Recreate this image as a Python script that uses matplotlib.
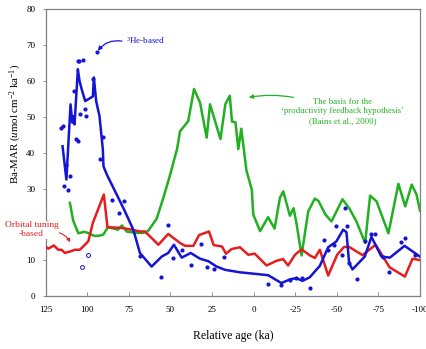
import matplotlib
matplotlib.use("Agg")
import matplotlib.pyplot as plt
import numpy as np

plt.rcParams['font.family'] = ['Liberation Serif', 'DejaVu Serif']
plt.rcParams['mathtext.fontset'] = 'custom'
plt.rcParams['mathtext.rm'] = 'Liberation Serif'
plt.rcParams['mathtext.it'] = 'Liberation Serif:italic'

# 3He-based line
he_age = [114.8, 112.5, 110.0, 108.9, 108.2, 107.6, 105.6, 104.6, 103.3, 101.2, 96.6, 96.0,
          94.6, 92.6, 91.2, 90.6, 90.2, 88.3, 81.3, 77.3, 72.3, 68.3, 61.3, 55.2, 51.3, 47.9,
          43.2, 37.8, 32.2, 27.2, 22.2, 17.2, 8.2, -8.7, -16.7, -21.7, -25.7, -29.3, -33.7,
          -39.8, -44.8, -49.7, -53.8, -55.8, -57.4, -59.4, -66.8, -70.8, -76.8, -81.9, -90.7, -99.9]
he_mar = [41.8, 32.5, 53.5, 48.4, 50.2, 47.9, 63.3, 60.0, 57.7, 54.4, 55.7, 61.0,
          54.4, 50.2, 43.7, 40.9, 36.2, 34.0, 27.4, 23.6, 18.5, 12.0, 8.2, 11.0, 12.0, 14.3,
          10.7, 12.0, 10.4, 9.7, 8.2, 7.3, 6.6, 5.8, 3.6, 4.6, 5.0, 4.2, 5.2,
          8.4, 13.6, 15.2, 18.5, 17.8, 9.2, 7.4, 11.0, 16.5, 11.0, 10.7, 14.0, 11.0]

# 3He-based individual samples
pt_age = [115.8, 114.8, 113.8, 111.4, 112.8, 110.4, 108.0, 106.8, 105.8, 105.8, 104.8, 102.4,
          104.4, 101.4, 100.8, 96.4, 94.0, 90.4, 92.3, 85.3, 77.9, 80.7, 68.3, 51.3, 55.5,
          48.3, 43.2, 37.8, 31.6, 28.2, 23.8, 17.5, -8.7, -16.7, -21.7, -25.7, -29.3, -34.1,
          -42.3, -44.8, -48.2, -49.8, -53.4, -54.8, -56.2, -57.4, -62.2, -66.8, -70.8, -73.2,
          -77.8, -81.4, -88.8, -90.9, -96.9]
pt_mar = [47.0, 47.4, 30.6, 29.7, 36.5, 33.6, 57.2, 43.7, 43.2, 65.6, 65.6, 65.8,
          50.7, 52.1, 50.2, 60.5, 68.2, 44.3, 38.1, 26.7, 26.6, 23.2, 11.2, 19.9, 5.4,
          10.7, 12.9, 8.6, 14.5, 8.2, 7.5, 10.8, 3.3, 3.1, 4.5, 5.1, 5.1, 2.2,
          15.5, 12.9, 14.1, 19.4, 11.3, 24.6, 19.4, 9.3, 4.6, 15.3, 17.4, 17.4,
          10.9, 6.8, 15.2, 16.2, 11.3]

# open symbols
op_age = [99.4, 103.4]
op_mar = [11.4, 8.1]

# Orbital tuning-based
orb_age = [125, 123.4, 120, 117.4, 115.4, 113.4, 110.4, 107.4, 104.4, 102, 99.3, 96.6, 90,
           87.8, 79.3, 73.3, 68.3, 65.3, 57.2, 51.3, 44.2, 41.2, 36.2, 32.8, 26.8, 24, 19,
           16.6, 13.2, 8.2, 3.2, -0.7, -7.8, -13.7, -17.7, -20.7, -24.9, -28.8, -33.9, -36.8,
           -39.8, -44.8, -50.2, -54.4, -57.4, -62.2, -65.5, -73.3, -76.8, -81.7, -90.9, -95.5, -100]
orb_mar = [13.8, 13.2, 14.1, 12.9, 12.9, 12.0, 12.4, 12.9, 12.9, 14.0, 15.3, 20.4, 28.3,
           19.2, 19.0, 18.5, 18.0, 18.0, 14.3, 17.3, 14.8, 14.0, 14.0, 17.0, 18.0, 14.2, 13.8,
           11.8, 13.1, 13.6, 11.5, 11.8, 8.5, 9.8, 10.3, 8.5, 11.5, 13.0, 11.3, 10.6,
           12.9, 5.7, 11.5, 13.7, 13.7, 12.3, 11.4, 14.3, 11.7, 8.0, 5.4, 10.4, 10.0]

# Bains et al. (2000)
bains_age = [110.4, 108.4, 105.3, 101.7, 99.6, 96, 93, 90.4, 87.5, 81.5, 79.1, 76.3, 70.7,
             66.3, 63.5, 58.3, 54.3, 50.3, 47.2, 46, 44.2, 39.3, 35.8, 32.2, 28.2, 26.2, 19.9,
             17.0, 14.3, 13, 10.9, 9.2, 7.4, 4.3, 1.1, 0.2, -3.9, -8.7, -12.6, -15.8, -17.8,
             -21.8, -24.0, -25.9, -28.8, -32.8, -36.8, -39, -43.2, -46.8, -53.4, -57.4, -61.6,
             -67, -70, -73.9, -81, -87, -91.1, -95, -97.9, -100]
bains_mar = [26.0, 21.0, 17.5, 17.9, 17.6, 16.8, 16.8, 17.1, 19.2, 18.5, 19.7, 18.0, 17.6,
             17.6, 18.1, 21.5, 27.3, 33.6, 39, 41, 46, 48.8, 57.8, 54, 44.2, 53.5, 43.8,
             53.5, 55.9, 48.7, 48.5, 41, 46.7, 35, 29.7, 22.7, 18.1, 22, 18.8, 27.4, 29.2,
             22.4, 24.5, 19.9, 11.3, 23.6, 27.2, 26.5, 22.7, 20.8, 27.0, 24.5, 21,
             14.8, 28, 26.4, 17.5, 31.3, 25, 31.1, 28.3, 23.8]

xticks = [125, 100, 75, 50, 25, 0, -25, -50, -75, -100]
xticklabels = ['125', '100', '75', '50', '25', '0', '-25', '-50', '-75', '-100']
yticks = [0, 10, 20, 30, 40, 50, 60, 70, 80]

BLUE = '#1414d2'
GREEN = '#22b022'
RED = '#e41e1e'

fig = plt.figure(figsize=(4.26, 3.49), dpi=100)
ax = fig.add_axes([0.107, 0.152, 0.879, 0.821])

ax.plot(bains_age, bains_mar, color=GREEN, lw=1.8, zorder=2)
ax.plot(orb_age, orb_mar, color=RED, lw=1.8, zorder=3)
ax.plot(he_age, he_mar, color=BLUE, lw=1.8, zorder=4)
ax.plot(pt_age, pt_mar, linestyle='none', marker='o', ms=2.0, color=BLUE, zorder=5)
ax.plot(op_age, op_mar, linestyle='none', marker='o', ms=2.8, mfc='none', mec=BLUE, mew=0.7, zorder=5)

ax.set_xlim(125, -100)
ax.set_ylim(0, 80)
ax.set_xticks(xticks)
ax.set_xticklabels(xticklabels)
ax.set_yticks(yticks)
ax.tick_params(axis='y', labelsize=6.5, length=2.5, width=0.6, color='#808080',
               direction='out', pad=5)
ax.tick_params(axis='x', labelsize=6.5, length=3, width=0.6, color='#808080',
               direction='in', pad=7)
for s in ax.spines.values():
    s.set_color('#808080')
    s.set_linewidth(0.9)

ax.set_xlabel('Relative age (ka)', fontsize=8.5, labelpad=12)
ax.set_ylabel(r'Ba-MAR ($\mathit{u}$mol cm$^{-2}$ ka$^{-1}$)', fontsize=7.8)
ax.yaxis.set_label_coords(-0.058, 0.6)

# annotations
ax.annotate('', xy=(94.5, 67.8), xytext=(77.5, 71.0),
            arrowprops=dict(arrowstyle='-|>', color=BLUE, lw=0.9, mutation_scale=6,
                            connectionstyle='arc3,rad=0.35'))
ax.text(76.5, 71.3, r'$^{3}$He-based', color=BLUE, fontsize=6.5, va='center', ha='left')

ax.annotate('', xy=(4.5, 55.3), xytext=(-25.5, 55.3),
            arrowprops=dict(arrowstyle='-|>', color=GREEN, lw=0.9, mutation_scale=6,
                            connectionstyle='arc3,rad=0.1'))
ax.text(-53.5, 51.5, 'The basis for the\n\u2018productivity feedback hypothesis\u2019\n(Bains et al., 2000)',
        color=GREEN, fontsize=6.3, ha='center', va='center', linespacing=1.25)

fig.text(0.074, 0.342, 'Orbital tuning\n-based', color=RED, fontsize=6.8, ha='center', va='center',
         linespacing=1.15, zorder=10,
         bbox=dict(boxstyle='square,pad=0.05', fc='white', ec='none'))
ax.annotate('', xy=(109.5, 14.3), xytext=(120.5, 18.0),
            arrowprops=dict(arrowstyle='-|>', color=RED, lw=0.8, mutation_scale=5,
                            connectionstyle='arc3,rad=-0.3'), annotation_clip=False)

fig.savefig('out.png', dpi=100)
